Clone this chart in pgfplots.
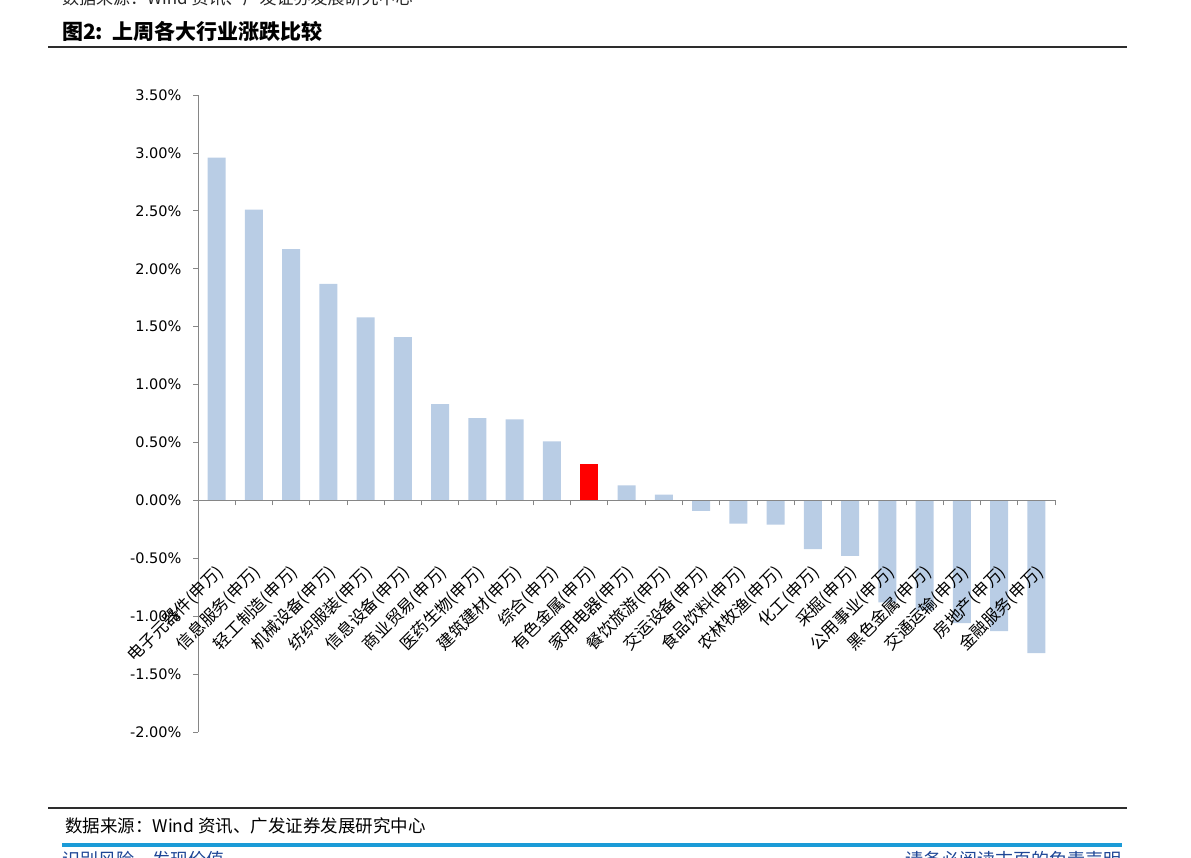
\documentclass[border=0pt]{standalone}
\usepackage{pgfplots}
\pgfplotsset{compat=1.18}
\usepackage{fontspec}
\setmainfont{DejaVu Sans}
\newfontfamily\cjk{Noto Sans CJK SC}
\newfontfamily\numfont{DejaVu Sans}
\definecolor{barblue}{RGB}{185,205,229}
\definecolor{axgray}{RGB}{134,134,134}
\definecolor{rulegray}{RGB}{45,45,45}
\definecolor{lineblue}{RGB}{27,155,215}
\definecolor{footblue}{RGB}{30,70,150}
\begin{document}
\begin{tikzpicture}[x=1pt,y=1pt]
\useasboundingbox (0,0) rectangle (1191,857);
\clip (0,0) rectangle (1191,857);
% header / footer
\node[anchor=west, inner sep=0, text=black!85, font=\cjk\fontsize{17}{17}\selectfont] at (62,859) {数据来源：Wind 资讯、广发证券发展研究中心};
\node[anchor=base west, inner sep=0, font=\cjk\bfseries\fontsize{21}{21}\selectfont] at (62,817) {图2:\hspace{9pt}上周各大行业涨跌比较};
\draw[rulegray, line width=1.5pt] (48,810) -- (1127,810);
\draw[rulegray, line width=2.5pt] (48,49) -- (1127,49);
\node[anchor=base west, inner sep=0, font=\cjk\fontsize{17.5}{17.5}\selectfont] at (65,25) {数据来源：Wind 资讯、广发证券发展研究中心};
\draw[lineblue, line width=3.5pt] (62,12) -- (1122,12);
\node[anchor=north west, inner sep=0, text=footblue, font=\cjk\fontsize{18}{18}\selectfont] at (62,6) {识别风险，发现价值};
\node[anchor=north east, inner sep=0, text=footblue, font=\cjk\fontsize{18}{18}\selectfont] at (1122,6) {请务必阅读末页的免责声明};
\begin{axis}[
  at={(198pt,125pt)}, anchor=south west,
  scale only axis, width=857pt, height=637pt,
  xmin=-0.5, xmax=22.5, ymin=-2, ymax=3.5,
  axis x line*=middle, axis y line*=left,
  hide obscured x ticks=false,
  axis on top,
  axis line style={axgray, line width=0.8pt},
  tick style={axgray, line width=0.8pt},
  major tick length=5pt,
  tick align=outside,
  ytick={-2,-1.5,...,3.5},
  /pgf/number format/assume math mode=true,
  yticklabel={\pgfmathprintnumber[fixed,fixed zerofill,precision=2]{\tick}\%},
  yticklabel style={font=\numfont\fontsize{14.5}{15}\selectfont, xshift=-8pt},
  xtick={-0.5,0.5,...,22.5},
  x tick label as interval,
  xticklabels={{电子元器件(申万)},{信息服务(申万)},{轻工制造(申万)},{机械设备(申万)},{纺织服装(申万)},{信息设备(申万)},{商业贸易(申万)},{医药生物(申万)},{建筑建材(申万)},{综合(申万)},{有色金属(申万)},{家用电器(申万)},{餐饮旅游(申万)},{交运设备(申万)},{食品饮料(申万)},{农林牧渔(申万)},{化工(申万)},{采掘(申万)},{公用事业(申万)},{黑色金属(申万)},{交通运输(申万)},{房地产(申万)},{金融服务(申万)}},
  xticklabel style={font=\cjk\fontsize{16.5}{16.5}\selectfont, yshift=-64pt, xshift=4pt, rotate=45, anchor=east, inner sep=0pt},
  ybar, bar width=18pt,
  clip=false,
]
\addplot[fill=barblue, draw=none, bar shift=0pt] coordinates {
(0,2.96) (1,2.51) (2,2.17) (3,1.87) (4,1.58) (5,1.41) (6,0.83) (7,0.71) (8,0.70) (9,0.51)
(11,0.13) (12,0.05) (13,-0.09) (14,-0.20) (15,-0.21) (16,-0.42) (17,-0.48) (18,-0.88) (19,-0.95) (20,-1.06) (21,-1.13) (22,-1.32)};
\addplot[fill=red, draw=none, bar shift=0pt] coordinates {(10,0.31)};
\end{axis}
\end{tikzpicture}
\end{document}
